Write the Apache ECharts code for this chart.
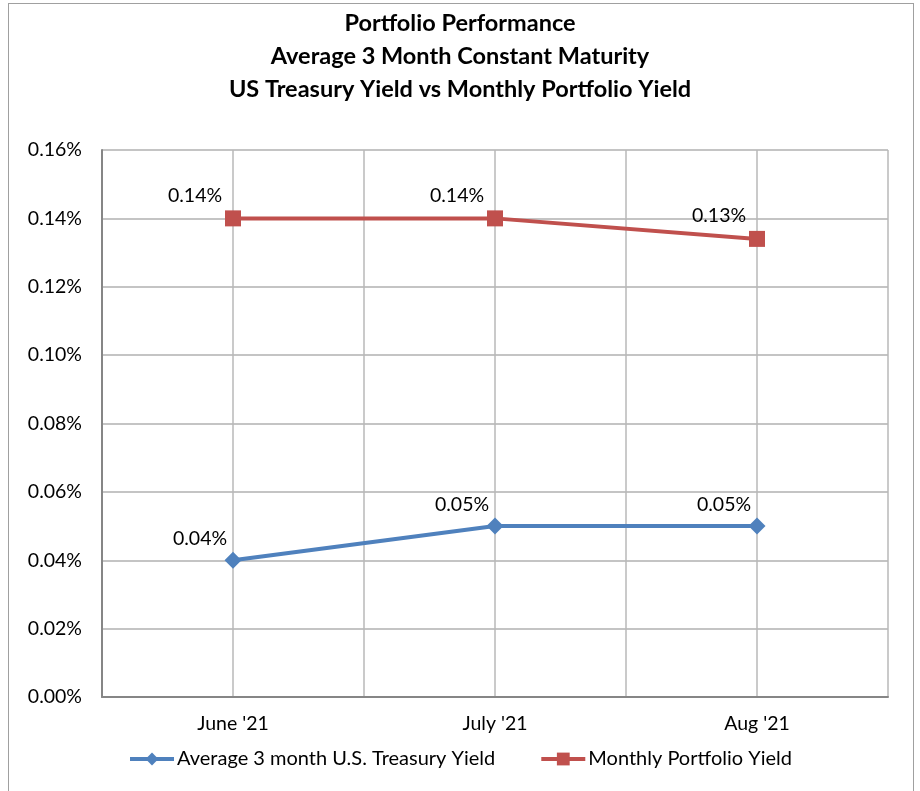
<!DOCTYPE html>
<html>
<head>
<meta charset="utf-8">
<script src="https://cdn.jsdelivr.net/npm/echarts@6/dist/echarts.min.js"></script>
<style>
  html, body { margin: 0; padding: 0; background: #fff; }
  #chart { position: absolute; left: 0; top: 0; width: 920px; height: 791px; }
  #frame { position: absolute; left: 8px; top: 3px; width: 904px; height: 820px;
           border: 1px solid #a0a0a0; pointer-events: none; }
</style>
</head>
<body>
<div id="chart"></div>
<div id="frame"></div>
<script>
const months = ["June '21", "July '21", "Aug '21"]
const treasuryYield = [0.04, 0.05, 0.05]
const portfolioYield = [0.14, 0.14, 0.134]
const yTicks = { min: 0, max: 0.16, interval: 0.02 }

const FONT = 'Lato'
const chart = echarts.init(document.getElementById('chart'))

const pct = (v) => v.toFixed(2) + '%'

const labelStyle = {
  show: true,
  position: 'top',
  color: '#000',
  fontFamily: FONT,
  fontSize: 19.5,
  formatter: (p) => pct(p.value)
}

const option = {
  animation: false,
  title: {
    text: 'Portfolio Performance\nAverage 3 Month Constant Maturity\nUS Treasury Yield vs Monthly Portfolio Yield',
    left: 'center',
    top: 2,
    textStyle: {
      fontFamily: FONT,
      fontSize: 23.5,
      fontWeight: 'bold',
      lineHeight: 33,
      color: '#000'
    }
  },
  grid: { left: 102, top: 150, right: 32, bottom: 94 },
  legend: {
    bottom: 17,
    left: 'center',
    itemWidth: 44,
    itemHeight: 16,
    itemGap: 44,
    lineStyle: { width: 4 },
    textStyle: { fontFamily: FONT, fontSize: 20, color: '#000', padding: [0, 0, 0, -2] },
    data: ['Average 3 month U.S. Treasury Yield', 'Monthly Portfolio Yield']
  },
  xAxis: [
    {
      type: 'category',
      data: months,
      boundaryGap: true,
      axisLine: { lineStyle: { color: '#868686', width: 2 } },
      axisTick: { show: false },
      splitLine: { show: false },
      axisLabel: { color: '#000', fontFamily: FONT, fontSize: 19.5, margin: 17 }
    },
    {
      // half-category grid lines
      type: 'value',
      min: 0,
      max: months.length * 2,
      interval: 1,
      position: 'bottom',
      axisLine: { show: false },
      axisTick: { show: false },
      axisLabel: { show: false },
      splitLine: { show: true, lineStyle: { color: '#b8b8b8', width: 1.5 } }
    }
  ],
  yAxis: {
    type: 'value',
    min: yTicks.min,
    max: yTicks.max,
    interval: yTicks.interval,
    axisLine: { show: true, lineStyle: { color: '#868686', width: 2 } },
    axisTick: { show: false },
    splitLine: { lineStyle: { color: '#b0b0b0', width: 1.5 } },
    axisLabel: {
      color: '#000',
      fontFamily: FONT,
      fontSize: 19.5,
      margin: 20,
      formatter: (v) => pct(v)
    }
  },
  series: [
    {
      name: 'Average 3 month U.S. Treasury Yield',
      type: 'line',
      data: treasuryYield,
      color: '#4F81BD',
      lineStyle: { width: 4 },
      symbol: 'diamond',
      symbolSize: [17, 17],
      label: { ...labelStyle, offset: [-33, 2] }
    },
    {
      name: 'Monthly Portfolio Yield',
      type: 'line',
      data: portfolioYield,
      color: '#C0504D',
      lineStyle: { width: 4 },
      symbol: 'rect',
      symbolSize: 16,
      label: { ...labelStyle, offset: [-38, 0] }
    }
  ]
}

chart.setOption(option)
</script>
</body>
</html>
